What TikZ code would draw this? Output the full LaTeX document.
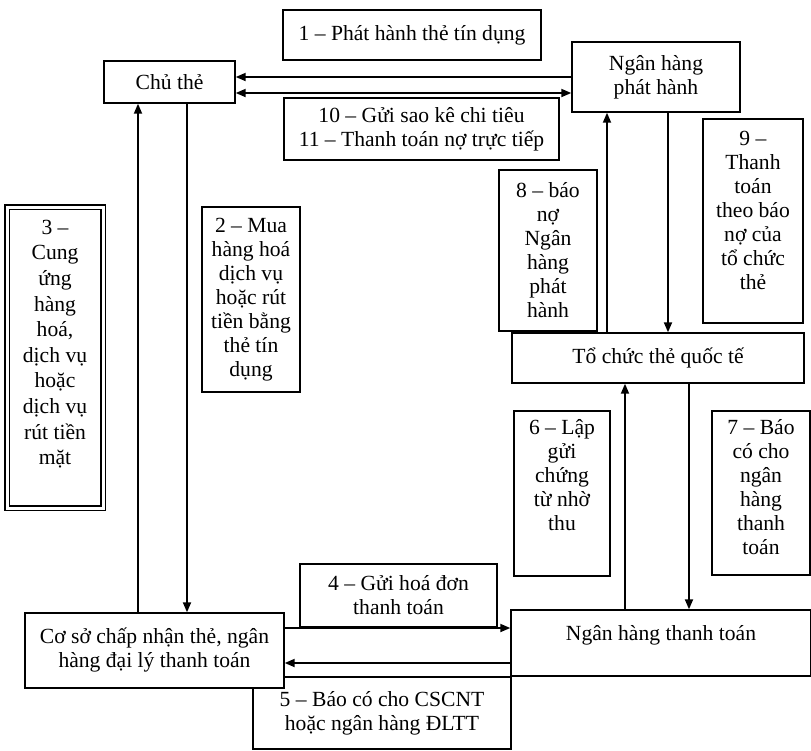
\documentclass[tikz,border=0pt]{standalone}
\usepackage{fontspec}
\setmainfont{Liberation Serif}
\usetikzlibrary{arrows.meta}
\newcommand{\topcell}[4]{\begin{minipage}[c][#2][t]{#1}\centering\vspace*{#3}#4\end{minipage}}

\begin{document}
\begin{tikzpicture}[x=0.5pt,y=-0.5pt,
  font=\fontsize{10.8}{12}\selectfont,
  >={Triangle[length=5pt,width=4pt]},
  box/.style={draw,line width=.7pt,fill=white,align=center,inner sep=0pt},
  arr/.style={line width=.9pt,->}]
\useasboundingbox (0,0) rectangle (811,751);
% parties and their labels
\node[box,minimum width=129pt,minimum height=25pt] (b1) at (412,35) {1 – Phát hành thẻ tín dụng};
\node[box,minimum width=65.5pt,minimum height=21pt] (ct) at (169.5,82) {Chủ thẻ};
\node[box,minimum width=84pt,minimum height=35pt] (ph) at (656,77) {Ngân hàng\\phát hành};
\node[box,minimum width=137.5pt,minimum height=31pt] (b10) at (421.5,129) {10 – Gửi sao kê chi tiêu\\11 – Thanh toán nợ trực tiếp};
\node[box,minimum width=49pt,minimum height=80.5pt] (b8) at (548,250.5) {8 – báo\\nợ\\Ngân\\hàng\\phát\\hành};
\node[box] (b9) at (753,221) {\topcell{50pt}{102pt}{6pt}{9 –\\Thanh\\toán\\theo báo\\nợ của\\tổ chức\\thẻ}};
\node[box,minimum width=146pt,minimum height=25pt] (tc) at (658,358) {Tổ chức thẻ quốc tế};
\node[box,double,double distance=1.5pt] (b3) at (55,357.5) {\fontsize{10.8}{12.8}\selectfont\topcell{48pt}{150.5pt}{6.5pt}{3 –\\Cung\\ứng\\hàng\\hoá,\\dịch vụ\\hoặc\\dịch vụ\\rút tiền\\mặt}};
\node[box,minimum width=49pt,minimum height=92.5pt] (b2) at (251,299.5) {2 – Mua\\hàng hoá\\dịch vụ\\hoặc rút\\tiền bằng\\thẻ tín\\dụng};
\node[box] (b6) at (562,493.5) {\topcell{48pt}{82.5pt}{4pt}{6 – Lập\\gửi\\chứng\\từ nhờ\\thu}};
\node[box] (b7) at (761,493) {\topcell{49pt}{82pt}{4pt}{7 – Báo\\có cho\\ngân\\hàng\\thanh\\toán}};
\node[box,minimum width=98.5pt,minimum height=31.5pt] (b4) at (398.5,595.5) {4 – Gửi hoá đơn\\thanh toán};
\node[box] (nt) at (661,643) {\topcell{150pt}{33pt}{7.5pt}{Ngân hàng thanh toán}};
\node[box,minimum width=129pt,minimum height=36pt] (b5) at (382,713) {5 – Báo có cho CSCNT\\hoặc ngân hàng ĐLTT};
\node[box,minimum width=129.5pt,minimum height=37.5pt] (cs) at (154.5,650.5) {Cơ sở chấp nhận thẻ, ngân\\hàng đại lý thanh toán};
% flows
\draw[arr] (ph.west) -- (ph.west -| ct.east);
\draw[arr,<->] ([yshift=-8pt]ph.west) -- ([yshift=-8pt]ph.west -| ct.east);
\draw[arr] ([xshift=-15.75pt]ct.south |- cs.north) -- ([xshift=-15.75pt]ct.south);
\draw[arr] ([xshift=8.75pt]ct.south) -- ([xshift=8.75pt]ct.south |- cs.north);
\draw[arr] ([xshift=-24.5pt]ph.south |- tc.north) -- ([xshift=-24.5pt]ph.south);
\draw[arr] ([xshift=6pt]ph.south) -- ([xshift=6pt]ph.south |- tc.north);
\draw[arr] ([xshift=-16.5pt]tc.south |- nt.north) -- ([xshift=-16.5pt]tc.south);
\draw[arr] ([xshift=15.5pt]tc.south) -- ([xshift=15.5pt]tc.south |- nt.north);
\draw[arr] ([yshift=11.25pt]cs.east) -- ([yshift=11.25pt]cs.east -| nt.west);
\draw[arr] ([yshift=-6.25pt]cs.east -| nt.west) -- ([yshift=-6.25pt]cs.east);
\end{tikzpicture}
\end{document}
